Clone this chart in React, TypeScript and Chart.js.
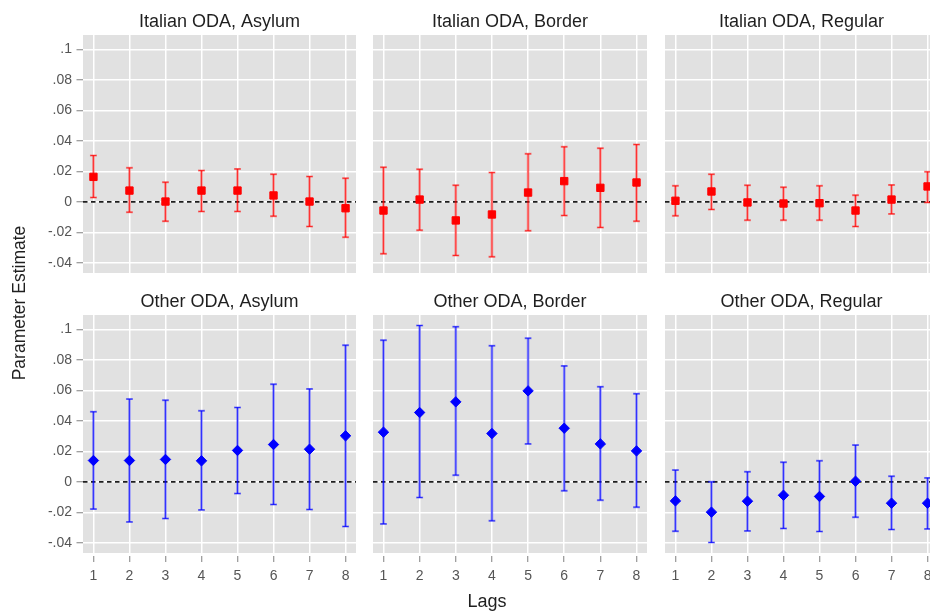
import React, { useEffect, useRef } from "react";
import { Chart, registerables } from "chart.js";

Chart.register(...registerables);

// ---------- data ----------
const lags = [1, 2, 3, 4, 5, 6, 7, 8];
const yTickValues = [-0.04, -0.02, 0, 0.02, 0.04, 0.06, 0.08, 0.1];

const italianAsylumEst = [0.0164, 0.0074, 0.0002, 0.0074, 0.0074, 0.0042, 0.0002, -0.0042];
const italianAsylumLo = [0.0028, -0.0068, -0.0127, -0.0063, -0.0063, -0.0094, -0.0162, -0.0232];
const italianAsylumHi = [0.0304, 0.0223, 0.0129, 0.0205, 0.0216, 0.0181, 0.0166, 0.0155];

const italianBorderEst = [-0.0057, 0.0015, -0.0122, -0.0083, 0.0061, 0.0136, 0.0092, 0.0127];
const italianBorderLo = [-0.0341, -0.0186, -0.0352, -0.0361, -0.019, -0.009, -0.0168, -0.0127];
const italianBorderHi = [0.0227, 0.0214, 0.0109, 0.0192, 0.0315, 0.0361, 0.0352, 0.0376];

const italianRegularEst = [0.0007, 0.0068, -0.0004, -0.0011, -0.0009, -0.0057, 0.0015, 0.0101];
const italianRegularLo = [-0.0092, -0.005, -0.012, -0.012, -0.012, -0.0162, -0.0079, -0.0004];
const italianRegularHi = [0.0105, 0.0181, 0.0109, 0.0096, 0.0105, 0.0044, 0.0111, 0.0197];

const otherAsylumEst = [0.014, 0.014, 0.0147, 0.0138, 0.0206, 0.0245, 0.0214, 0.0302];
const otherAsylumLo = [-0.0179, -0.0263, -0.0241, -0.0184, -0.0077, -0.0149, -0.0182, -0.0293];
const otherAsylumHi = [0.046, 0.0543, 0.0536, 0.0466, 0.0488, 0.0641, 0.061, 0.0897];

const otherBorderEst = [0.0326, 0.0455, 0.0525, 0.0317, 0.0597, 0.0352, 0.0249, 0.0203];
const otherBorderLo = [-0.0276, -0.0103, 0.0044, -0.0256, 0.0249, -0.0059, -0.012, -0.0166];
const otherBorderHi = [0.093, 0.1026, 0.1018, 0.0893, 0.0943, 0.0761, 0.0624, 0.0578];

const otherRegularEst = [-0.0125, -0.0199, -0.0127, -0.0088, -0.0096, 0.0004, -0.014, -0.014];
const otherRegularLo = [-0.0324, -0.0398, -0.0322, -0.0306, -0.0326, -0.0232, -0.0313, -0.0309];
const otherRegularHi = [0.0077, 0.0, 0.0066, 0.0129, 0.0138, 0.0241, 0.0037, 0.0026];

const panelTitles = [
  "Italian ODA, Asylum",
  "Italian ODA, Border",
  "Italian ODA, Regular",
  "Other ODA, Asylum",
  "Other ODA, Border",
  "Other ODA, Regular",
];
const yAxisTitle = "Parameter Estimate";
const xAxisTitle = "Lags";

const panelData = [
  { est: italianAsylumEst, lo: italianAsylumLo, hi: italianAsylumHi },
  { est: italianBorderEst, lo: italianBorderLo, hi: italianBorderHi },
  { est: italianRegularEst, lo: italianRegularLo, hi: italianRegularHi },
  { est: otherAsylumEst, lo: otherAsylumLo, hi: otherAsylumHi },
  { est: otherBorderEst, lo: otherBorderLo, hi: otherBorderHi },
  { est: otherRegularEst, lo: otherRegularLo, hi: otherRegularHi },
];

// ---------- layout / style ----------
const FONT = '"Liberation Sans", Arial, sans-serif';
const colLeft = [83, 373, 665];
const colRight = [356, 647, 938];
const rowTop = [35, 315];
const rowBottom = [273, 553];
const PAGE_H = 612;

function geom(i: number) {
  const r = Math.floor(i / 3);
  const c = i % 3;
  const left = c === 0 ? 0 : colLeft[c];
  const width = colRight[c] - left;
  const top = r === 0 ? 0 : c === 0 ? 200 : 280;
  const height = r === 0 ? rowBottom[0] : PAGE_H - top;
  return {
    r,
    c,
    left,
    top,
    width,
    height,
    padTop: rowTop[r] - top,
    yAxisW: c === 0 ? colLeft[0] : 0,
    xAxisH: r === 0 ? 0 : PAGE_H - rowBottom[1],
  };
}

const styles = {
  red: { point: "#ff0000", bar: "rgba(255,0,0,0.38)", core: "rgba(255,0,0,0.7)", shape: "rect", radius: 5.2 },
  blue: { point: "#0000ff", bar: "rgba(0,0,255,0.38)", core: "rgba(0,0,255,0.7)", shape: "rectRot", radius: 5.2 },
};

function fmtY(v: number) {
  if (Math.abs(v) < 1e-9) return "0";
  return String(+v.toFixed(2)).replace("0.", ".");
}

function makeDeco(i: number, g: ReturnType<typeof geom>) {
  const d = panelData[i];
  const st = g.r === 0 ? styles.red : styles.blue;
  return {
    id: "deco" + i,
    beforeDraw(chart: any) {
      const { ctx, chartArea: a } = chart;
      ctx.save();
      ctx.fillStyle = "#e1e1e1";
      ctx.fillRect(a.left, a.top, a.right - a.left, a.bottom - a.top);
      ctx.restore();
    },
    beforeDatasetsDraw(chart: any) {
      const { ctx, chartArea: a, scales } = chart;
      const x = scales.x;
      const y = scales.y;
      ctx.save();
      // zero reference line
      const y0 = y.getPixelForValue(0);
      ctx.beginPath();
      ctx.setLineDash([4.5, 3.5]);
      ctx.strokeStyle = "#1e1e1e";
      ctx.lineWidth = 1.6;
      ctx.moveTo(a.left, y0);
      ctx.lineTo(a.right + 1, y0);
      ctx.stroke();
      ctx.setLineDash([]);
      // error bars
      lags.forEach((lag, k) => {
        const px = x.getPixelForValue(lag);
        const pl = y.getPixelForValue(d.lo[k]);
        const ph = y.getPixelForValue(d.hi[k]);
        ctx.beginPath();
        ctx.strokeStyle = st.bar;
        ctx.lineWidth = 2.6;
        ctx.moveTo(px, pl);
        ctx.lineTo(px, ph);
        ctx.stroke();
        ctx.beginPath();
        ctx.lineWidth = 2;
        ctx.moveTo(px - 3.5, pl);
        ctx.lineTo(px + 3.5, pl);
        ctx.moveTo(px - 3.5, ph);
        ctx.lineTo(px + 3.5, ph);
        ctx.stroke();
        ctx.beginPath();
        ctx.strokeStyle = st.core;
        ctx.lineWidth = 1;
        ctx.moveTo(px, pl);
        ctx.lineTo(px, ph);
        ctx.moveTo(px - 3, pl);
        ctx.lineTo(px + 3, pl);
        ctx.moveTo(px - 3, ph);
        ctx.lineTo(px + 3, ph);
        ctx.stroke();
      });
      ctx.restore();
    },
    afterDraw(chart: any) {
      const { ctx, chartArea: a } = chart;
      ctx.save();
      ctx.fillStyle = "#1f1f1f";
      ctx.font = "18px " + FONT;
      ctx.textAlign = "center";
      ctx.textBaseline = "alphabetic";
      ctx.fillText(panelTitles[i], (a.left + a.right) / 2, a.top - 8);
      if (g.r === 1 && g.c === 0) {
        ctx.save();
        ctx.translate(25, 303 - g.top);
        ctx.rotate(-Math.PI / 2);
        ctx.font = "17.5px " + FONT;
        ctx.fillText(yAxisTitle, 0, 0);
        ctx.restore();
      }
      if (g.r === 1 && g.c === 1) {
        ctx.fillText(xAxisTitle, 487 - g.left, 607 - g.top);
      }
      ctx.restore();
    },
  };
}

function makeChart(canvas: HTMLCanvasElement, i: number) {
  const g = geom(i);
  const d = panelData[i];
  const st = g.r === 0 ? styles.red : styles.blue;
  const showX = g.r === 1;
  const showY = g.c === 0;
  return new Chart(canvas, {
    type: "scatter",
    data: {
      datasets: [
        {
          data: lags.map((l, k) => ({ x: l, y: d.est[k] })),
          pointStyle: st.shape as any,
          pointRadius: st.radius,
          pointHoverRadius: st.radius,
          backgroundColor: st.point,
          borderColor: st.point,
          borderWidth: 1,
          showLine: false,
          clip: 8,
        },
      ],
    },
    options: {
      animation: false,
      responsive: false,
      events: [],
      layout: { autoPadding: false, padding: { top: g.padTop, left: 0, right: 0, bottom: 0 } },
      plugins: { legend: { display: false }, tooltip: { enabled: false }, title: { display: false } },
      scales: {
        x: {
          type: "linear",
          min: 0.71,
          max: 8.29,
          afterBuildTicks: (s: any) => {
            s.ticks = lags.map((v) => ({ value: v }));
          },
          afterFit: (s: any) => {
            s.height = g.xAxisH;
            s.paddingLeft = 0;
            s.paddingRight = 0;
          },
          border: { display: false },
          grid: {
            color: "#ffffff",
            lineWidth: 1.5,
            drawTicks: showX,
            tickLength: 9,
            tickColor: "#808080",
            tickWidth: 1,
            tickBorderDash: [0, 3, 6],
          },
          ticks: {
            display: showX,
            color: "#555555",
            font: { family: FONT, size: 14 },
            padding: 6,
            autoSkip: false,
            maxRotation: 0,
            callback: (v: any) => String(v),
          },
        },
        y: {
          type: "linear",
          min: -0.0467,
          max: 0.1095,
          afterBuildTicks: (s: any) => {
            s.ticks = yTickValues.map((v) => ({ value: v }));
          },
          afterFit: (s: any) => {
            s.width = g.yAxisW;
            s.paddingTop = 0;
            s.paddingBottom = 0;
          },
          border: { display: false },
          grid: {
            color: "#ffffff",
            lineWidth: 1.5,
            drawTicks: showY,
            tickLength: 8,
            tickColor: "#808080",
            tickWidth: 1,
            tickBorderDash: [0, 1.5, 6.5],
          },
          ticks: {
            display: showY,
            color: "#555555",
            font: { family: FONT, size: 14 },
            padding: 3,
            autoSkip: false,
            callback: (v: any) => fmtY(Number(v)),
          },
        },
      },
    } as any,
    plugins: [makeDeco(i, g)],
  });
}

export default function App() {
  const refs = useRef<(HTMLCanvasElement | null)[]>([]);
  useEffect(() => {
    const charts = panelTitles.map((_, i) => makeChart(refs.current[i] as HTMLCanvasElement, i));
    return () => charts.forEach((c) => c.destroy());
  }, []);
  return (
    <div
      style={{
        position: "fixed",
        left: 0,
        top: 0,
        width: 930,
        height: 612,
        overflow: "hidden",
        background: "#ffffff",
      }}
    >
      {panelTitles.map((_, i) => {
        const g = geom(i);
        return (
          <canvas
            key={i}
            ref={(el) => {
              refs.current[i] = el;
            }}
            width={g.width}
            height={g.height}
            style={{ position: "absolute", left: g.left, top: g.top, width: g.width, height: g.height }}
          />
        );
      })}
    </div>
  );
}
